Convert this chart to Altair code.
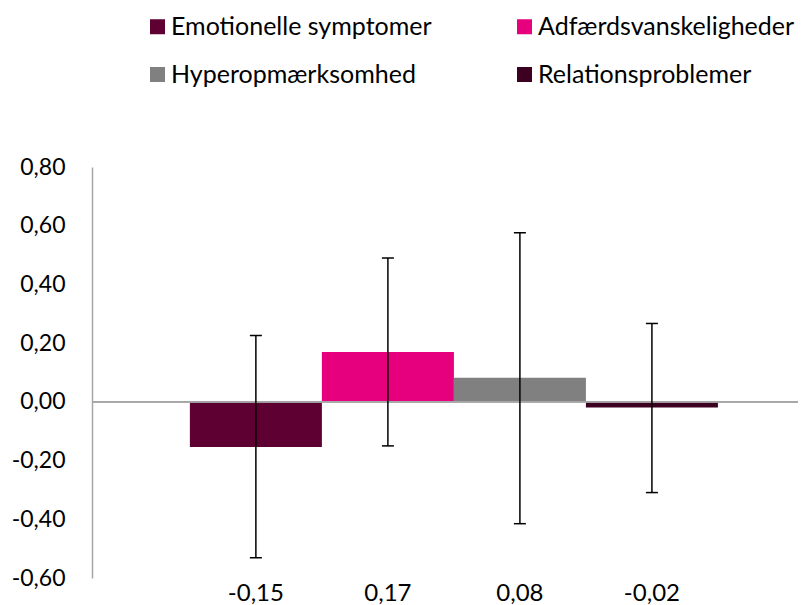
import altair as alt
import pandas as pd

categories = ["Emotionelle symptomer", "Adfærdsvanskeligheder", "Hyperopmærksomhed", "Relationsproblemer"]
values = [-0.154, 0.17, 0.082, -0.019]
ci_low = [-0.531, -0.15, -0.415, -0.309]
ci_high = [0.226, 0.49, 0.576, 0.267]
colors = ["#5E0031", "#E6007E", "#808080", "#3C0021"]
y_ticks = [-0.6, -0.4, -0.2, 0.0, 0.2, 0.4, 0.6, 0.8]

df = pd.DataFrame({"cat": categories, "value": values, "lo": ci_low, "hi": ci_high})

FONT = "Lato"
FS = 23

fmt = "replace(replace(format({v}, '.2f'), '.', ','), '\u2212', '-')"

xscale = alt.Scale(domain=categories, paddingInner=0, paddingOuter=0.674, align=0.55)
yscale = alt.Scale(domain=[-0.6, 0.8], nice=False, zero=False)
x = alt.X("cat:N", scale=xscale, axis=None, sort=categories)

base = alt.Chart(df)

bars = base.mark_bar(opacity=1).encode(
    x=x,
    y=alt.Y(
        "value:Q",
        scale=yscale,
        title=None,
        axis=alt.Axis(
            values=y_ticks,
            grid=False,
            ticks=False,
            domain=True,
            domainColor="#A6A6A6",
            domainWidth=1.5,
            labelFont=FONT,
            labelFontSize=FS,
            labelColor="black",
            labelPadding=27,
            labelExpr=fmt.format(v="datum.value"),
        ),
    ),
    y2=alt.datum(0),
    color=alt.Color(
        "cat:N",
        scale=alt.Scale(domain=categories, range=colors),
        sort=categories,
        legend=alt.Legend(
            orient="none",
            direction="horizontal",
            legendX=53,
            legendY=-153,
            columns=2,
            title=None,
            symbolType="square",
            symbolSize=225,
            symbolStrokeWidth=0,
            symbolOpacity=1,
            labelFont=FONT,
            labelFontSize=25,
            labelColor="black",
            labelOffset=1,
            labelLimit=0,
            columnPadding=80,
            rowPadding=22,
            padding=0,
        ),
    ),
)

zero_line = base.mark_rule(color="#A6A6A6", strokeWidth=1.5).encode(y=alt.datum(0))

err = base.mark_rule(color="black", strokeWidth=1.5).encode(
    x=x, y=alt.Y("lo:Q", scale=yscale), y2="hi:Q"
)
cap_lo = base.mark_tick(color="black", thickness=1.5, size=12, opacity=1).encode(
    x=x, y=alt.Y("lo:Q", scale=yscale)
)
cap_hi = base.mark_tick(color="black", thickness=1.5, size=12, opacity=1).encode(
    x=x, y=alt.Y("hi:Q", scale=yscale)
)

labels = base.transform_calculate(
    lbl=fmt.format(v="datum.value")
).mark_text(font=FONT, fontSize=24, baseline="middle", align="center", dy=16, color="black").encode(
    x=x, y=alt.datum(-0.6), text="lbl:N"
)

chart = (
    alt.layer(bars, zero_line, err, cap_lo, cap_hi, labels)
    .properties(
        width=706,
        height=411,
        autosize=alt.AutoSizeParams(type="none"),
        padding={"left": 84, "top": 159, "right": 0, "bottom": 30},
        background="white",
    )
    .configure_view(stroke=None)
)

chart.save("out.html", embed_options={"renderer": "svg", "actions": False})
